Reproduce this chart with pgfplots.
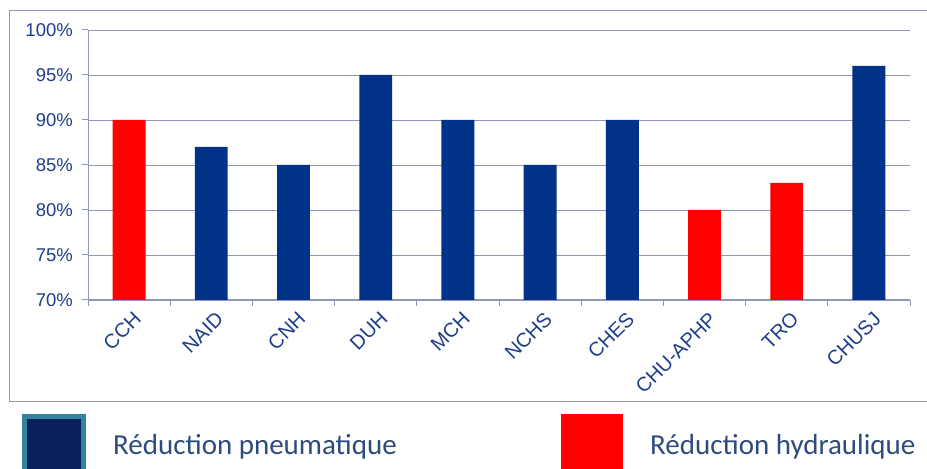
\documentclass[border=0pt]{standalone}
\usepackage{pgfplots}
\pgfplotsset{compat=1.18}
\usepackage{fontspec}
\setmainfont{Liberation Sans}
\newfontfamily\legfont{Carlito}
\definecolor{gridc}{RGB}{145,150,190}
\definecolor{barblue}{RGB}{0,50,135}
\definecolor{barred}{RGB}{255,0,0}
\definecolor{labc}{RGB}{30,62,140}
\definecolor{legc}{RGB}{45,75,125}
\definecolor{teal}{RGB}{49,132,155}
\definecolor{navy}{RGB}{11,32,90}
\begin{document}
\begin{tikzpicture}
\useasboundingbox (0bp,0bp) rectangle (927bp,469bp);
\clip (0bp,0bp) rectangle (927bp,469bp);
\draw[gridc, line width=1bp] (9bp,67bp) rectangle (935bp,458bp);
\begin{axis}[
  at={(88bp,169bp)}, anchor=south west,
  scale only axis, width=822bp, height=270bp,
  xmin=-0.5, xmax=9.5, ymin=70, ymax=100,
  ytick={70,75,...,100},
  minor ytick={70,75,...,100},
  yticklabel={\pgfmathprintnumber{\tick}\%},
  xtick={0,...,9},
  minor xtick={-0.5,0.5,...,9.5},
  xticklabels={CCH,NAID,CNH,DUH,MCH,NCHS,CHES,CHU-APHP,TRO,CHUSJ},
  axis lines*=left,
  axis line style={gridc, line width=1bp},
  tick align=outside, major tick length=0pt, minor tick length=6bp,
  tick style={gridc, line width=1bp},
  ymajorgrids, grid style={gridc, line width=0.8bp},
  /pgf/number format/assume math mode=true,
  yticklabel style={font=\fontsize{18.5bp}{20bp}\selectfont, text=labc, inner sep=2bp, xshift=-13bp},
  xticklabel style={font=\fontsize{20bp}{22bp}\selectfont, text=labc, rotate=45, anchor=east, inner sep=2bp, xshift=-3bp, yshift=-17bp},
  ybar, bar width=0.4,
]
\addplot[fill=barblue, draw=none, bar shift=0pt] coordinates {(1,87) (2,85) (3,95) (4,90) (5,85) (6,90) (9,96)};
\addplot[fill=barred, draw=none, bar shift=0pt] coordinates {(0,90) (7,80) (8,83)};
\end{axis}
\fill[teal] (22bp,-5bp) rectangle (86bp,55bp);
\fill[navy] (27bp,-5bp) rectangle (81bp,50bp);
\fill[barred] (561bp,-5bp) rectangle (623bp,55bp);
\node[anchor=base west, inner sep=0, text=legc, font=\legfont\fontsize{29bp}{33bp}\selectfont] at (113bp,15bp) {Réduction pneumatique};
\node[anchor=base west, inner sep=0, text=legc, font=\legfont\fontsize{29bp}{33bp}\selectfont] at (650bp,15bp) {Réduction hydraulique};
\end{tikzpicture}
\end{document}
